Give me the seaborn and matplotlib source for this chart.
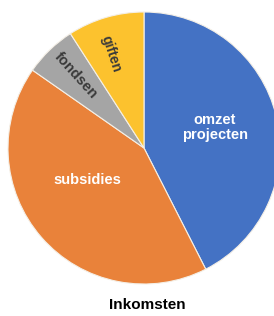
import matplotlib
matplotlib.use("Agg")
import matplotlib.pyplot as plt
import seaborn as sns

categories = ["omzet\nprojecten", "subsidies", "fondsen", "giften"]
values = [42.5, 42.2, 6.2, 9.1]
label_colors = ["white", "white", "#3a3a3a", "#3a3a3a"]
title = "Inkomsten"

sns.set_theme(style="white")
plt.rcParams['font.family'] = ['Liberation Sans', 'DejaVu Sans']

palette = sns.color_palette(["#4472C4", "#E9823A", "#A5A5A5", "#FCC22E"])

fig = plt.figure(figsize=(2.74, 3.16), dpi=100)
fig.patch.set_facecolor("white")
ax = fig.add_axes([8/274, 32/316, 272/274, 272/316])
wedges, _ = ax.pie(values, colors=palette, startangle=90, counterclock=False,
                   radius=1, wedgeprops=dict(edgecolor="#f4efe6", linewidth=0.8))
ax.set_xlim(-1, 1)
ax.set_ylim(-1, 1)
ax.set_aspect("equal")
ax.axis("off")

pos = [(0.52, 0.15), (-0.42, -0.235), (-0.50, 0.53), (-0.24, 0.69)]
rots = [0, 0, -48, -72]
sizes = [10.5, 10.5, 10.5, 10]
for lab, (x, y), r, c, s in zip(categories, pos, rots, label_colors, sizes):
    ax.text(x, y, lab, ha="center", va="center", rotation=r, color=c,
            fontsize=s, fontweight="bold", linespacing=1.1)

fig.text(147/274, 1 - 305/316, title, ha="center", va="center",
         fontsize=11, fontweight="bold", color="black")

fig.savefig("out.png", dpi=100, facecolor="white")
